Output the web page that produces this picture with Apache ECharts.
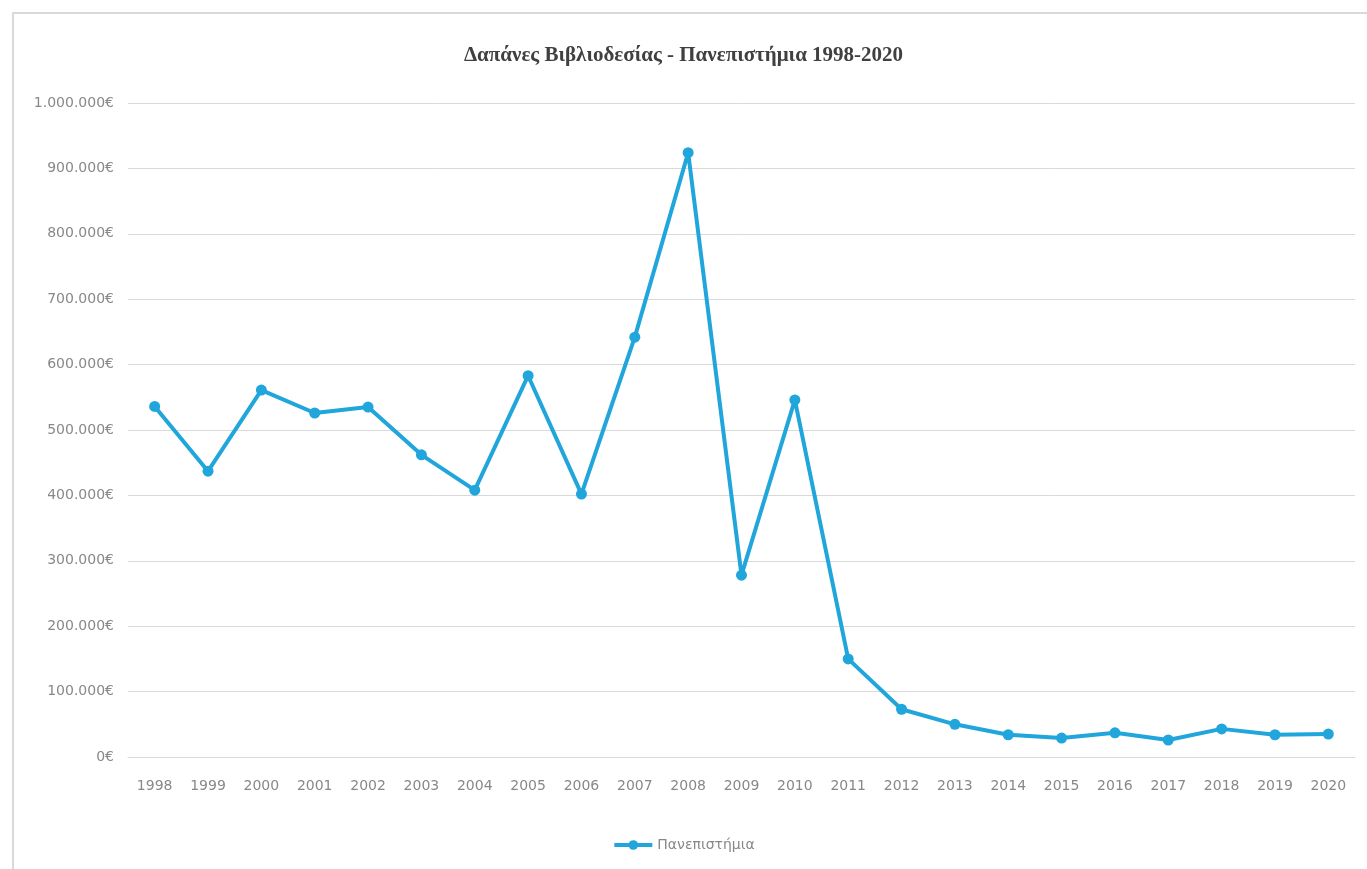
<!DOCTYPE html>
<html>
<head>
<meta charset="utf-8">
<script src="https://cdn.jsdelivr.net/npm/echarts@6/dist/echarts.min.js"></script>
<style>
  html, body { margin: 0; padding: 0; background: #fff; }
  #frame {
    position: absolute; left: 12px; top: 12px; width: 1355px; height: 857px;
    border-left: 2px solid #d9d9d9; border-top: 2px solid #d9d9d9; box-sizing: border-box;
  }
  #chart { position: absolute; left: 0; top: 0; width: 1367px; height: 869px; }
</style>
</head>
<body>
<div id="frame"></div>
<div id="chart"></div>
<script>
const years = ['1998', '1999', '2000', '2001', '2002', '2003', '2004', '2005', '2006', '2007', '2008', '2009', '2010', '2011', '2012', '2013', '2014', '2015', '2016', '2017', '2018', '2019', '2020']
const universities = [536000, 437000, 561000, 526000, 535000, 462000, 408000, 583000, 402000, 642000, 924000, 278000, 546000, 150000, 73000, 50000, 34000, 29000, 37000, 26000, 43000, 34000, 35000]
const seriesName = 'Πανεπιστήμια'
const chartTitle = 'Δαπάνες Βιβλιοδεσίας - Πανεπιστήμια 1998-2020'

function euro(value) {
  return String(value).replace(/\B(?=(\d{3})+(?!\d))/g, '.') + '€'
}

const chart = echarts.init(document.getElementById('chart'))
chart.setOption({
  animation: false,
  title: {
    text: chartTitle,
    left: 'center',
    top: 40,
    textStyle: {
      fontFamily: 'Liberation Serif',
      fontSize: 21,
      fontWeight: 'bold',
      color: '#404040'
    }
  },
  legend: {
    bottom: 12,
    left: 'center',
    itemWidth: 38,
    itemHeight: 12,
    itemGap: 4,
    lineStyle: { width: 4 },
    textStyle: {
      fontFamily: 'DejaVu Sans',
      fontSize: 14,
      color: '#888888'
    },
    data: [seriesName]
  },
  grid: {
    left: 128,
    right: 12,
    top: 103,
    bottom: 112,
    containLabel: false
  },
  xAxis: {
    type: 'category',
    data: years,
    boundaryGap: true,
    axisLine: { show: true, lineStyle: { color: '#d9d9d9' } },
    axisTick: { show: false },
    axisLabel: {
      margin: 22,
      fontFamily: 'DejaVu Sans',
      fontSize: 14,
      color: '#888888'
    }
  },
  yAxis: {
    type: 'value',
    min: 0,
    max: 1000000,
    interval: 100000,
    axisLine: { show: false },
    axisTick: { show: false },
    splitLine: { lineStyle: { color: '#d9d9d9', width: 1 } },
    axisLabel: {
      margin: 14,
      formatter: euro,
      fontFamily: 'DejaVu Sans',
      fontSize: 14,
      color: '#888888'
    }
  },
  series: [
    {
      name: seriesName,
      type: 'line',
      data: universities,
      symbol: 'circle',
      symbolSize: 11,
      itemStyle: { color: '#21a6dc' },
      lineStyle: { color: '#21a6dc', width: 4 }
    }
  ]
})
</script>
</body>
</html>
